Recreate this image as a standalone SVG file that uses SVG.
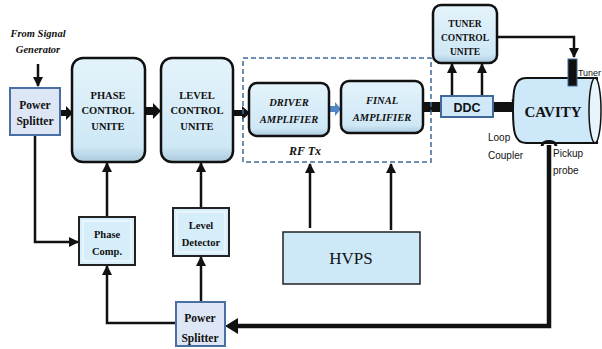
<svg xmlns="http://www.w3.org/2000/svg" width="602" height="349" viewBox="0 0 602 349">
<defs>
<linearGradient id="g1" x1="0" y1="0" x2="0" y2="1">
<stop offset="0" stop-color="#e4f3fb"/><stop offset="0.85" stop-color="#cfe8f6"/><stop offset="1" stop-color="#a9c9dc"/>
</linearGradient>
<marker id="ah" viewBox="0 0 10 10" refX="9" refY="5" markerWidth="4" markerHeight="4" orient="auto" markerUnits="strokeWidth"><path d="M0,0 L10,5 L0,10 z" fill="#111"/></marker>
<style>
.serif{font-family:'Liberation Serif','DejaVu Serif',serif;font-weight:bold;fill:#111;text-anchor:middle}
.it{font-style:italic}
.sans{font-family:'Liberation Sans','DejaVu Sans',sans-serif;fill:#111}
.unit{fill:url(#g1);stroke:#111;stroke-width:2.5}
.ps{fill:#dde6f4;stroke:#4a6fa5;stroke-width:2}
.sm{fill:#d6eef9;stroke:#222;stroke-width:2}
.inner{fill:none;stroke:#f4fbff;stroke-width:1.2}
.ln{fill:none;stroke:#111;stroke-width:2.5}
.thick{fill:#111}
</style>
</defs>

<g id="connectors">
<line class="ln" x1="38" y1="64" x2="38" y2="86" marker-end="url(#ah)"/>
<polygon class="thick" points="60,110 66,110 66,106 73,113 66,120 66,116 60,116"/>
<polygon class="thick" points="146,107 153,107 153,103 161,111 153,119 153,115 146,115"/>
<polygon class="thick" points="234,110 242,110 242,106 250,113 242,120 242,116 234,116"/>
<polygon fill="#4f86c6" points="329,106 335,106 335,102 341,109 335,116 335,112 329,112"/>
<rect class="thick" x="423" y="102" width="18" height="10"/>
<rect class="thick" x="493" y="102" width="22" height="10"/>
<path d="M512,102 C524,100 526,116 516,118" fill="none" stroke="#111" stroke-width="5"/>
<line class="ln" x1="452" y1="96" x2="452" y2="64" marker-end="url(#ah)"/>
<line class="ln" x1="482" y1="96" x2="482" y2="64" marker-end="url(#ah)"/>
<path class="ln" d="M497,37 L574,37 L574,57" marker-end="url(#ah)"/>
<path class="ln" d="M35,135 L35,242 L78,242" marker-end="url(#ah)"/>
<line class="ln" x1="107" y1="217" x2="107" y2="163" marker-end="url(#ah)"/>
<line class="ln" x1="201" y1="208" x2="201" y2="163" marker-end="url(#ah)"/>
<path class="ln" d="M176,323 L107,323 L107,266" marker-end="url(#ah)"/>
<line class="ln" x1="201" y1="302" x2="201" y2="257" marker-end="url(#ah)"/>
<line class="ln" x1="310" y1="228" x2="310" y2="164" marker-end="url(#ah)"/>
<line class="ln" x1="391" y1="230" x2="391" y2="164" marker-end="url(#ah)"/>
<path d="M549,145 L549,326 L236,326" fill="none" stroke="#111" stroke-width="4.5"/>
<polygon class="thick" points="225,326 238,318 238,334"/>
</g>

<g id="signal-label">
<text class="serif it" x="38" y="37" font-size="10.5">From Signal</text>
<text class="serif it" x="38" y="53" font-size="10.5">Generator</text>
</g>

<g id="power-splitter-1">
<rect class="ps" x="10" y="88" width="50" height="47"/>
<text class="serif" x="35" y="109" font-size="11.5">Power</text>
<text class="serif" x="35" y="125" font-size="11.5">Splitter</text>
</g>

<g id="phase-control">
<rect class="unit" x="72" y="58" width="73" height="104" rx="11"/>
<text class="serif" x="108" y="99" font-size="10.5">PHASE</text>
<text class="serif" x="108" y="114" font-size="10.5">CONTROL</text>
<text class="serif" x="108" y="130" font-size="10.5">UNITE</text>
</g>

<g id="level-control">
<rect class="unit" x="161" y="58" width="72" height="104" rx="11"/>
<text class="serif" x="197" y="99" font-size="10.5">LEVEL</text>
<text class="serif" x="197" y="114" font-size="10.5">CONTROL</text>
<text class="serif" x="197" y="130" font-size="10.5">UNITE</text>
</g>

<g id="rf-tx">
<rect x="243" y="58" width="188" height="104" fill="none" stroke="#3f6a99" stroke-width="1.5" stroke-dasharray="5,3"/>
<text class="serif it" x="305" y="155" font-size="12">RF Tx</text>
</g>

<g id="driver-amplifier">
<rect class="unit" x="249" y="83" width="80" height="53" rx="8" stroke-width="2"/>
<text class="serif it" x="289" y="106" font-size="10.5">DRIVER</text>
<text class="serif it" x="289" y="123" font-size="10.5">AMPLIFIER</text>
</g>

<g id="final-amplifier">
<rect class="unit" x="341" y="81" width="82" height="52" rx="8" stroke-width="2"/>
<text class="serif it" x="382" y="104" font-size="10.5">FINAL</text>
<text class="serif it" x="382" y="121" font-size="10.5">AMPLIFIER</text>
</g>

<g id="tuner-control">
<rect class="unit" x="433" y="5" width="64" height="58" rx="8" stroke-width="2"/>
<text class="serif" x="465" y="27" font-size="9.5">TUNER</text>
<text class="serif" x="465" y="41" font-size="9.5">CONTROL</text>
<text class="serif" x="465" y="55" font-size="9.5">UNITE</text>
</g>

<g id="ddc">
<rect x="441" y="96" width="52" height="21" fill="#d0e8f8" stroke="#3f6a99" stroke-width="2"/>
<text class="sans" x="467" y="111.5" font-size="12.5" font-weight="bold" text-anchor="middle">DDC</text>
</g>

<g id="cavity">
<path d="M526,78 L597,78 L597,143 L526,143 C514,143 513,130 513,110 C513,90 514,78 526,78 Z" fill="#cde8f8" stroke="#111" stroke-width="2"/>
<ellipse cx="595" cy="110.5" rx="6" ry="32.5" fill="#e8f4fb" stroke="#111" stroke-width="1.5"/>
<text class="serif" x="553" y="117" font-size="15">CAVITY</text>
<rect x="568" y="59" width="9" height="27" fill="#111" stroke="#3f6a99" stroke-width="1"/>
<text class="sans" x="578" y="76" font-size="9" textLength="23" lengthAdjust="spacingAndGlyphs">Tuner</text>
<path d="M542,146 C542,140 556,140 556,146" fill="none" stroke="#111" stroke-width="3"/>
</g>

<g id="loop-coupler-label">
<text class="sans" x="488" y="141" font-size="10">Loop</text>
<text class="sans" x="488" y="159" font-size="10">Coupler</text>
</g>

<g id="pickup-label">
<text class="sans" x="553" y="157" font-size="10">Pickup</text>
<text class="sans" x="553" y="174" font-size="10">probe</text>
</g>

<g id="phase-comp">
<rect class="sm" x="79" y="217" width="56" height="48"/>
<rect class="inner" x="83" y="221" width="48" height="40"/>
<text class="serif" x="107" y="238" font-size="10.5">Phase</text>
<text class="serif" x="107" y="255" font-size="10.5">Comp.</text>
</g>

<g id="level-detector">
<rect class="sm" x="173" y="208" width="56" height="48"/>
<rect class="inner" x="177" y="212" width="48" height="40"/>
<text class="serif" x="201" y="229" font-size="10.5">Level</text>
<text class="serif" x="201" y="246" font-size="10.5">Detector</text>
</g>

<g id="hvps">
<rect x="283" y="232" width="137" height="52" fill="#cde9f8" stroke="#222" stroke-width="1.5"/>
<text class="serif" x="351" y="264" font-size="17" style="font-weight:normal">HVPS</text>
</g>

<g id="power-splitter-2">
<rect class="ps" x="176" y="302" width="49" height="44"/>
<text class="serif" x="200" y="322" font-size="11.5">Power</text>
<text class="serif" x="200" y="342" font-size="11.5">Splitter</text>
</g>
</svg>
